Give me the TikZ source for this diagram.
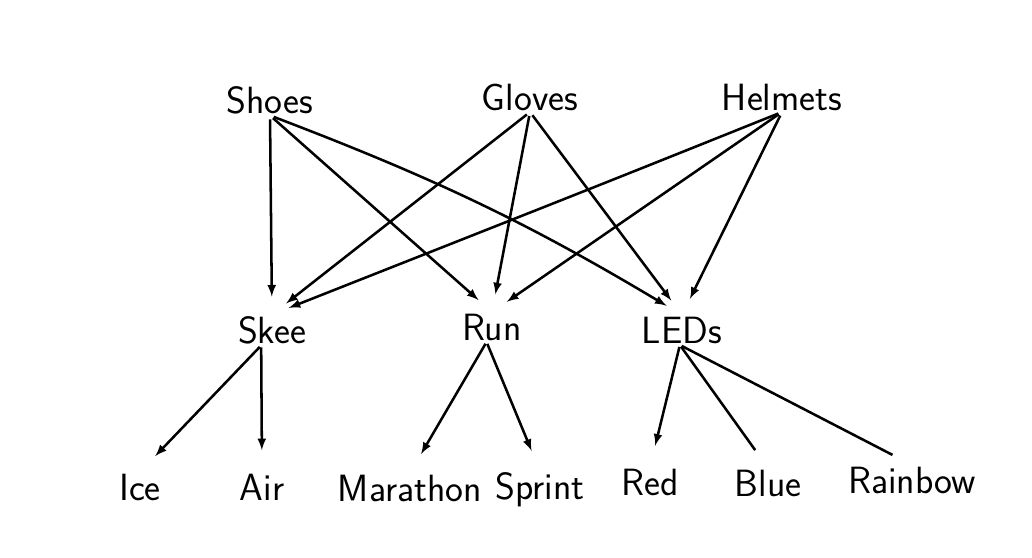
\documentclass[tikz,border=0pt]{standalone}
\usetikzlibrary{arrows,positioning}
\tikzset{
	every node/.style={
		font=\sffamily\fontsize{27}{32}\selectfont
	},
	item/.style={
		shape=rectangle,
		inner sep=1pt
	},
	link/.style={
		-latex,
		line width=1.8pt,
		shorten >=0.45cm,
		shorten <=0.1cm
	},
	sub link/.style={
		-latex,
		line width=1.8pt,
		shorten >=0.55cm,
		shorten <=0.05cm
	},
	plain link/.style={
		line width=1.8pt,
		shorten >=0.55cm,
		shorten <=0.05cm
	}
}

\begin{document}
\begin{tikzpicture}[x=0.025cm,y=-0.025cm]
	\useasboundingbox (0,0) rectangle (1032,558);
	
	% gear
	\node[item] (shoes) at (270,100) {Shoes};
	\node[item] (gloves) at (530,97) {Gloves};
	\node[item] (helmets) at (782,97) {Helmets};
	
	% sports
	\node[item] (skee) at (272,330) {Skee};
	\node[item] (run) at (492,327) {Run};
	\node[item] (leds) at (682,330) {LEDs};
	
	% kinds
	\node[item] (ice) at (140,487) {Ice};
	\node[item] (air) at (262,487) {Air};
	\node[item] (marathon) at (410,488) {Marathon};
	\node[item] (sprint) at (540,490) {Sprint};
	\node[item] (red) at (650,482) {Red};
	\node[item] (blue) at (768,483) {Blue};
	\node[item] (rainbow) at (912,480) {Rainbow};
	
	\foreach \top/\bottom in {shoes/skee, shoes/run, gloves/skee, gloves/run, gloves/leds, helmets/run, helmets/leds} {
		\draw[link] (\top.south) -- (\bottom.north);
	}
	\draw[link] (shoes.south) to[bend left=5] (leds.north);
	\draw[link] (helmets.south) .. controls (600,185) .. (skee.north);
	
	\foreach \top/\anchor/\bottom in {skee/235/ice, skee/235/air, run/250/marathon, run/250/sprint, leds/262/red} {
		\draw[sub link] (\top.\anchor) -- (\bottom.north);
	}
	\foreach \top/\bottom in {leds/blue, leds/rainbow} {
		\draw[plain link] (\top.262) -- (\bottom.north);
	}
\end{tikzpicture}
\end{document}
